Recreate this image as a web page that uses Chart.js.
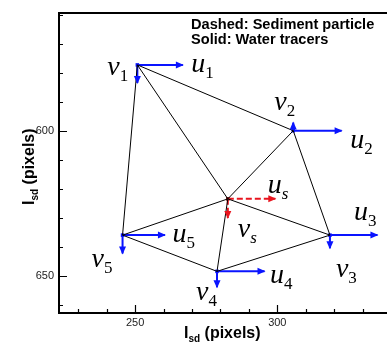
<!DOCTYPE html>
<html>
<head>
<meta charset="utf-8">
<script src="https://cdn.jsdelivr.net/npm/chart.js@4"></script>
<style>
  html, body { margin: 0; padding: 0; background: #fff; }
  #wrap { width: 387px; height: 347px; }
</style>
</head>
<body>
<div id="wrap"><canvas id="c"></canvas></div>
<script>
// node positions (pixels in the image frame) and velocity vectors
const nodeNames = ['1', '2', '3', '4', '5', 's'];
const nodeX = [250.8, 305.6, 318.5, 278.8, 245.6, 282.6];
const nodeY = [577.2, 599.9, 635.9, 648.4, 635.9, 623.4];
const uVel = [16.0, 17.0, 16.7, 16.7, 14.9, 16.7];
const vVel = [6.2, -2.8, 4.5, 5.5, 6.3, 6.6];
// triangle mesh edges (index into nodes)
const edgeFrom = [0, 0, 0, 1, 1, 2, 2, 3, 3, 4];
const edgeTo   = [1, 4, 5, 5, 2, 5, 3, 5, 4, 5];
const xTicks = [250, 300];
const yTicks = [600, 650];
const legendLines = ['Dashed: Sediment particle', 'Solid: Water tracers'];

const BLUE = '#0a14ff';
const RED = '#e8141e';
const SED = 5; // index of the sediment particle

// where the u/v labels sit relative to each node (px)
const labelPos = {
  u: [[54, 7], [57, 17], [24, -15], [53, 12], [50, 7], [40, -6]],
  v: [[-30, 10], [-19, -21], [6, 42], [-21, 29], [-31, 32], [10, 38]]
};

const datasets = [];
edgeFrom.forEach((a, i) => {
  const b = edgeTo[i];
  datasets.push({
    data: [{x: nodeX[a], y: nodeY[a]}, {x: nodeX[b], y: nodeY[b]}],
    showLine: true, borderColor: '#000', borderWidth: 1, pointRadius: 0
  });
});
nodeX.forEach((x, i) => {
  const col = i === SED ? RED : BLUE;
  const dash = i === SED ? [6, 3] : [];
  datasets.push({
    arrow: true,
    data: [{x: x, y: nodeY[i]}, {x: x + uVel[i], y: nodeY[i]}],
    showLine: true, borderColor: col, borderWidth: 2, borderDash: dash, pointRadius: 0
  });
  datasets.push({
    arrow: true,
    data: [{x: x, y: nodeY[i]}, {x: x, y: nodeY[i] + vVel[i]}],
    showLine: true, borderColor: col, borderWidth: 2, borderDash: dash, pointRadius: 0
  });
});
datasets.push({
  nodes: true,
  data: nodeX.map((x, i) => ({x: x, y: nodeY[i]})),
  pointStyle: 'rect', pointRadius: 2.5,
  backgroundColor: nodeX.map((x, i) => i === SED ? '#600' : BLUE),
  borderColor: nodeX.map((x, i) => i === SED ? '#600' : BLUE),
  borderWidth: 0
});

function subText(ctx, x, y, main, sub, mainFont, subFont, subDy) {
  ctx.font = mainFont;
  ctx.fillText(main, x, y);
  const w = ctx.measureText(main).width;
  ctx.font = subFont;
  ctx.fillText(sub, x + w, y + subDy);
  return w + ctx.measureText(sub).width;
}

const decor = {
  id: 'decor',
  afterDatasetsDraw(chart) {
    const ctx = chart.ctx;
    const a = chart.chartArea;
    ctx.save();
    // arrowheads
    chart.data.datasets.forEach((ds, i) => {
      if (!ds.arrow) return;
      const pts = chart.getDatasetMeta(i).data;
      const p0 = pts[0], p1 = pts[1];
      const ang = Math.atan2(p1.y - p0.y, p1.x - p0.x);
      ctx.save();
      ctx.translate(p1.x, p1.y);
      ctx.rotate(ang);
      ctx.fillStyle = ds.borderColor;
      ctx.beginPath();
      ctx.moveTo(1, 0);
      ctx.lineTo(-7, -3.5);
      ctx.lineTo(-7, 3.5);
      ctx.closePath();
      ctx.fill();
      ctx.restore();
    });
    // u / v labels
    const nodeMeta = chart.getDatasetMeta(chart.data.datasets.length - 1).data;
    ctx.fillStyle = '#000';
    ctx.textBaseline = 'alphabetic';
    ctx.textAlign = 'left';
    nodeMeta.forEach((p, i) => {
      const subFont = i === SED ? 'italic 17px "Liberation Serif"' : '17px "Liberation Serif"';
      ['u', 'v'].forEach(k => {
        const off = labelPos[k][i];
        subText(ctx, p.x + off[0], p.y + off[1], k, nodeNames[i],
          'italic 28px "Liberation Serif"', subFont, 6);
      });
    });
    // frame
    ctx.strokeStyle = '#000';
    ctx.lineWidth = 2;
    ctx.beginPath();
    ctx.moveTo(chart.width, a.top);
    ctx.lineTo(a.left, a.top);
    ctx.lineTo(a.left, a.bottom);
    ctx.lineTo(chart.width, a.bottom);
    ctx.stroke();
    // inward ticks
    ctx.lineWidth = 1.2;
    const xs = chart.scales.x, ys = chart.scales.y;
    ctx.beginPath();
    xs.ticks.forEach(t => {
      if (t.value % 10 !== 0) return;
      const px = Math.round(xs.getPixelForValue(t.value)) + 0.5;
      const len = xTicks.includes(t.value) ? 8 : 4;
      ctx.moveTo(px, a.bottom); ctx.lineTo(px, a.bottom - len);
    });
    ys.ticks.forEach(t => {
      if (t.value % 10 !== 0) return;
      const py = Math.round(ys.getPixelForValue(t.value)) + 0.5;
      const len = yTicks.includes(t.value) ? 8 : 4;
      ctx.moveTo(a.left, py); ctx.lineTo(a.left + len, py);
    });
    ctx.stroke();
    // legend text
    ctx.font = 'bold 14.6px "Liberation Sans"';
    ctx.fillText(legendLines[0], 191, 29);
    ctx.fillText(legendLines[1], 191, 44);
    // axis titles
    const tf = 'bold 16px "Liberation Sans"';
    const sf = 'bold 10px "Liberation Sans"';
    let w = subText(ctx, 184, 338, 'I', 'sd', tf, sf, 4);
    ctx.font = tf;
    ctx.fillText(' (pixels)', 184 + w, 338);
    ctx.save();
    ctx.translate(34, 205);
    ctx.rotate(-Math.PI / 2);
    w = subText(ctx, 0, 0, 'I', 'sd', tf, sf, 4);
    ctx.font = tf;
    ctx.fillText(' (pixels)', w, 0);
    ctx.restore();
    ctx.restore();
  }
};

new Chart(document.getElementById('c'), {
  type: 'scatter',
  data: { datasets: datasets },
  options: {
    responsive: true,
    maintainAspectRatio: false,
    animation: false,
    events: [],
    layout: { padding: { left: 29, top: 13, right: 0, bottom: 14 } },
    plugins: { legend: { display: false }, tooltip: { enabled: false } },
    scales: {
      x: {
        type: 'linear', min: 223.26, max: 337.15,
        grid: { display: false, drawTicks: false },
        border: { display: false },
        afterFit: s => { s.height = 20; },
        ticks: {
          stepSize: 10, includeBounds: false, autoSkip: false, maxRotation: 0,
          padding: 3, color: '#222', font: { family: 'Liberation Sans', size: 11 },
          callback: v => xTicks.includes(v) ? String(v) : ''
        }
      },
      y: {
        type: 'linear', reverse: true, min: 559.3, max: 662.76,
        grid: { display: false, drawTicks: false },
        border: { display: false },
        afterFit: s => { s.width = 30; },
        ticks: {
          stepSize: 10, includeBounds: false, autoSkip: false,
          padding: 5, color: '#222', font: { family: 'Liberation Sans', size: 11 },
          callback: v => yTicks.includes(v) ? String(v) : ''
        }
      }
    }
  },
  plugins: [decor]
});
</script>
</body>
</html>
